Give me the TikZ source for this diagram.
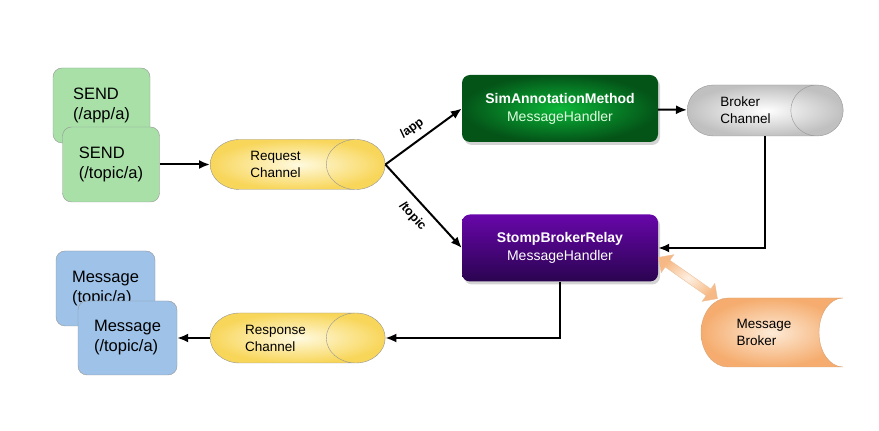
\documentclass[tikz,border=0pt]{standalone}
\usepackage{fontspec}
\setmainfont{Liberation Sans}
\usetikzlibrary{shapes.geometric, shapes.arrows, arrows.meta, shadows, calc}
\definecolor{SendGreen}{RGB}{168,224,168}
\definecolor{MsgBlue}{RGB}{158,194,232}
\definecolor{EdgeGray}{RGB}{150,150,150}
\definecolor{ChanYellow}{RGB}{248,214,90}
\definecolor{ChanLight}{RGB}{255,250,224}
\definecolor{HdlGreenIn}{RGB}{10,182,56}
\definecolor{HdlGreenOut}{RGB}{4,84,24}
\definecolor{HdlPurpleTop}{RGB}{104,6,170}
\definecolor{HdlPurpleBot}{RGB}{42,4,80}
\definecolor{BrkGray}{RGB}{192,192,192}
\definecolor{BrkOrange}{RGB}{245,172,110}
\definecolor{BrkLight}{RGB}{253,234,214}

\begin{document}
\begin{tikzpicture}[x=1pt, y=1pt,
    client/.style={rectangle, draw=EdgeGray, rounded corners=9pt,
                   minimum width=97pt, minimum height=75pt, align=left,
                   font=\fontsize{16.5}{20}\selectfont},
    chan/.style={cylinder, draw=EdgeGray, shading=radial,
                 inner color=ChanLight, outer color=ChanYellow,
                 minimum height=175pt, minimum width=50pt, aspect=1.78,
                 anchor=west, align=left,
                 font=\fontsize{13.5}{17}\selectfont},
    hdl/.style={rectangle, rounded corners=8pt, text=white, align=center,
                minimum width=196pt, minimum height=67pt,
                font=\fontsize{14}{18}\selectfont,
                drop shadow={shadow xshift=2pt, shadow yshift=-3pt,
                             opacity=0.35}},
    arr/.style={-{Latex[length=11pt, width=9pt]}, line width=2pt, black},
    lbl/.style={font=\fontsize{12.5}{15}\selectfont\bfseries, sloped}
  ]
  \useasboundingbox (0,0) rectangle (879,431);

  % Clients sending
  \node[client, fill=SendGreen] (sendapp) at (101.5,325.5)
        {SEND\\(/app/a)};
  \node[client, fill=SendGreen] (sendtopic) at (111,266.5)
        {SEND\\(/topic/a)};

  % Channels
  \node[chan] (req) at (210,266.5) {Request\\Channel};
  \node[chan] (resp) at (210,93) {Response\\Channel};
  \node[chan, inner color=white, outer color=BrkGray,
        minimum height=156pt, minimum width=51pt, aspect=1.56]
        (bchan) at (687,320.5) {Broker\\Channel};

  % Handlers
  \node[hdl, shading=radial, inner color=HdlGreenIn,
        outer color=HdlGreenOut] (simhdl) at (560,322.5)
        {\textbf{SimAnnotationMethod}\\{\color{green!12!white}MessageHandler}};
  \node[hdl, top color=HdlPurpleTop, bottom color=HdlPurpleBot]
        (relay) at (560,183)
        {\textbf{StompBrokerRelay}\\MessageHandler};

  % Messages back to clients
  \node[client, fill=MsgBlue, minimum width=99pt] (msgback)
        at (105.5,142.5) {Message\\(topic/a)};
  \node[client, fill=MsgBlue, minimum width=99pt, minimum height=74pt]
        (msgfront) at (127.5,93) {Message\\(/topic/a)};

  % Message broker
  \shadedraw[draw=BrkOrange!70!EdgeGray, inner color=BrkLight,
             outer color=BrkOrange]
    (728,133) -- (843,133)
    arc[start angle=90, end angle=270, x radius=24pt, y radius=34.5pt]
    -- (728,64)
    arc[start angle=270, end angle=90, x radius=27pt, y radius=34.5pt]
    -- cycle;
  \node[align=left, font=\fontsize{13.5}{17}\selectfont] (mbroker)
        at (764,98.5) {Message\\Broker};
  \node[double arrow, draw=BrkOrange!80!EdgeGray!70!white,
        inner color=BrkLight!70!white, outer color=BrkOrange!85!white,
        minimum height=72pt, minimum width=22pt,
        double arrow head extend=6pt, rotate=-35]
        (link) at (688,153) {};

  % Connectors
  \draw[arr] (sendtopic) -- (req);
  \draw[arr] (req.east) -- node[lbl, above=3pt, pos=0.45] {/app}
        (simhdl.west);
  \draw[arr] (req.east) -- node[lbl, below=5pt, pos=0.5] {/topic}
        (relay.west);
  \draw[arr] (simhdl) -- (bchan);
  \draw[arr] (bchan.south -| bchan.shape center) |- (relay.east);
  \draw[arr] (relay.south) |- (resp.east);
  \draw[arr] (resp) -- (msgfront);
\end{tikzpicture}
\end{document}
